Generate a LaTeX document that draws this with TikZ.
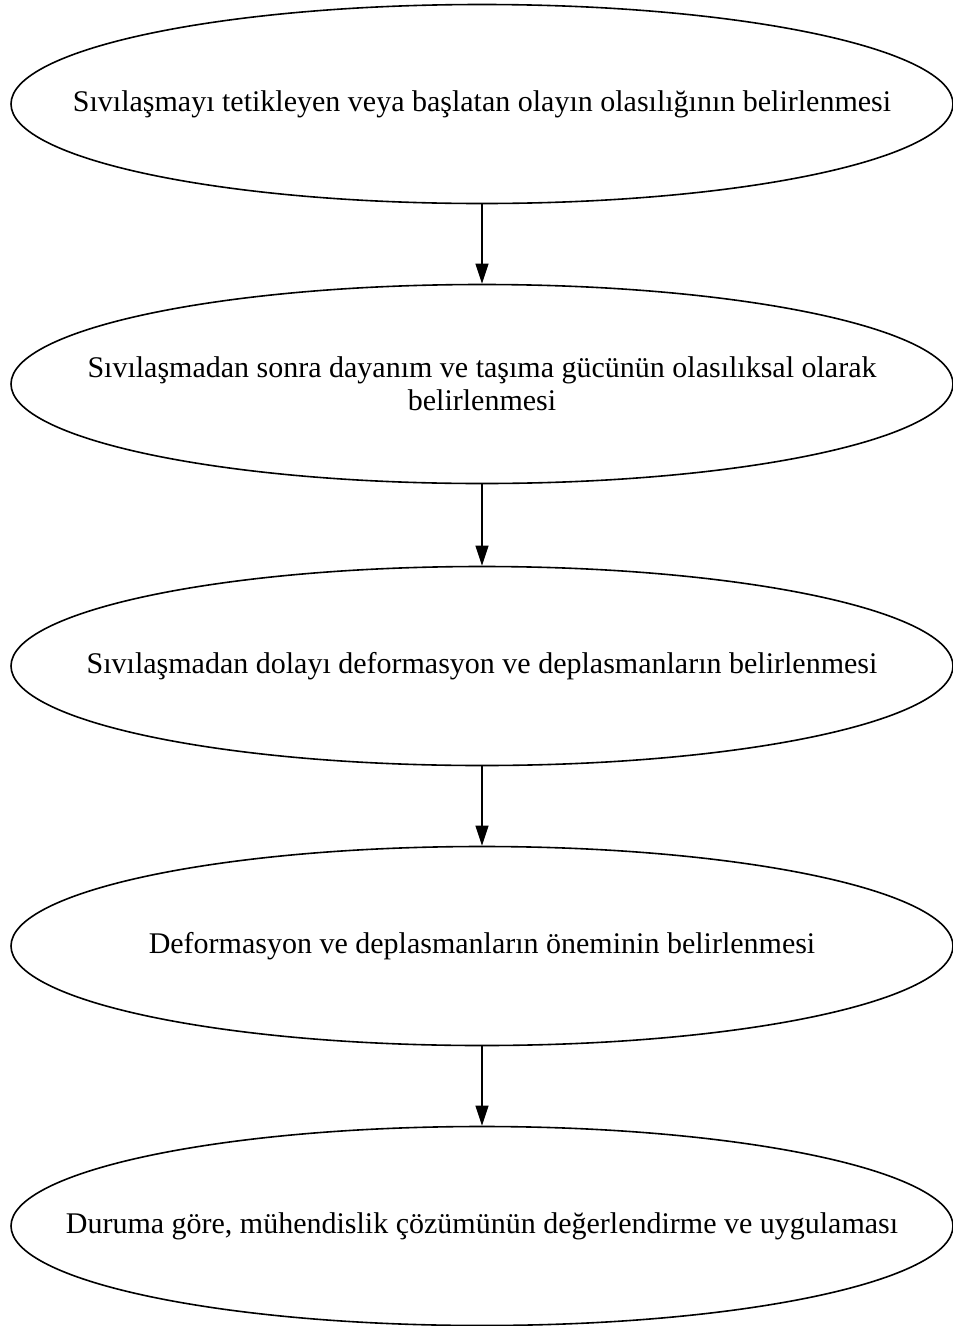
\documentclass[tikz,border=0pt]{standalone}
\usepackage{fontspec}
\setmainfont{Liberation Serif}
\usetikzlibrary{shapes.geometric,arrows.meta}
\begin{document}
\begin{tikzpicture}[x=1pt,y=-1pt,
  ell/.style={ellipse,draw,line width=1.6pt,minimum width=942pt,minimum height=199pt,inner sep=0pt},
  lbl/.style={align=center,inner sep=0pt,font=\fontsize{30}{33}\selectfont},
  arr/.style={line width=1.2pt,-{Triangle[length=20pt,width=13pt]}}]
\useasboundingbox (0,0) rectangle (953,1326);
\node[ell] (e1) at (482,104) {};
\node[ell] (e2) at (482,384) {};
\node[ell] (e3) at (482,666) {};
\node[ell] (e4) at (482,946) {};
\node[ell] (e5) at (482,1226) {};
\node[lbl] (t1) at (e1) {Sıvılaşmayı tetikleyen veya başlatan olayın olasılığının belirlenmesi};
\node[lbl] (t2) at (e2) {Sıvılaşmadan sonra dayanım ve taşıma gücünün olasılıksal olarak\\belirlenmesi};
\node[lbl] (t3) at (e3) {Sıvılaşmadan dolayı deformasyon ve deplasmanların belirlenmesi};
\node[lbl] (t4) at (e4) {Deformasyon ve deplasmanların öneminin belirlenmesi};
\node[lbl] (t5) at (e5) {Duruma göre, mühendislik çözümünün değerlendirme ve uygulaması};
\draw[arr] (e1) -- (e2);
\draw[arr] (e2) -- (e3);
\draw[arr] (e3) -- (e4);
\draw[arr] (e4) -- (e5);
\end{tikzpicture}
\end{document}
